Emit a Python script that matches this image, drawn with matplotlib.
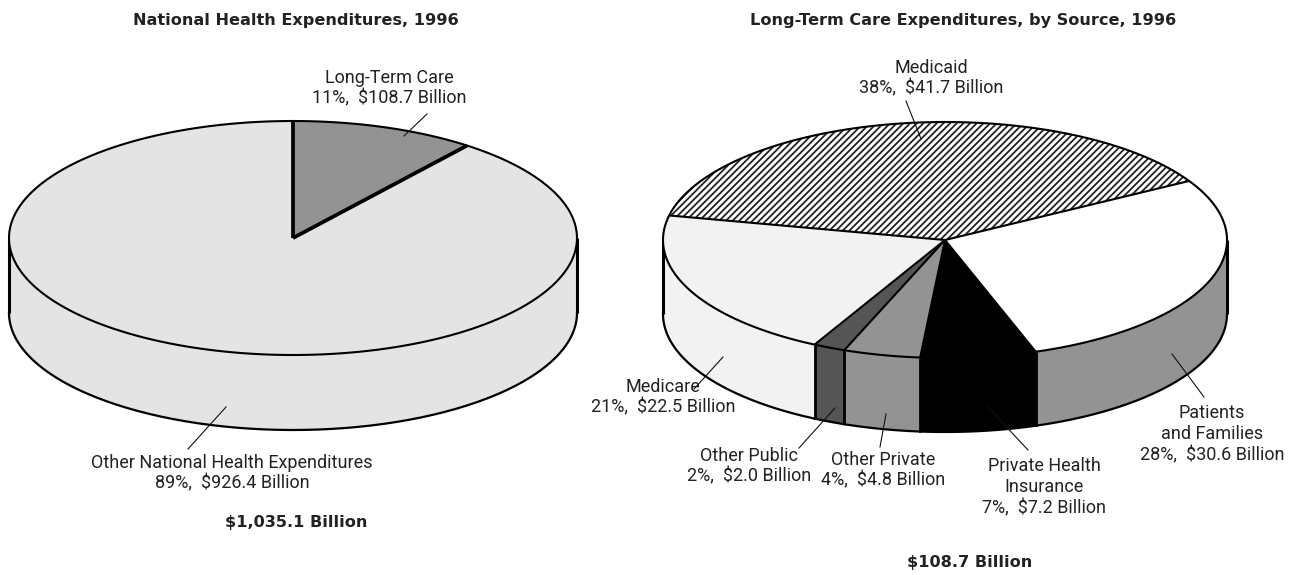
import numpy as np
import matplotlib
matplotlib.use('Agg')
import matplotlib.pyplot as plt
from matplotlib.patches import Polygon

# values in billion dollars
left_values = [108.7, 926.4]
right_values = [41.7, 30.6, 7.2, 4.8, 2.0, 22.5]

left_top = ['#939393', '#e4e4e4']
left_side = ['#939393', '#e4e4e4']
right_top = ['hatch', '#ffffff', '#000000', '#939393', '#555555', '#f2f2f2']
right_side = ['hatch', '#939393', '#000000', '#939393', '#555555', '#f2f2f2']

plt.rcParams['hatch.linewidth'] = 1.3
label_font = ['Liberation Sans Narrow', 'Roboto']


def pie3d(ax, values, tops, sides, start, cx, cy, rx, ry, depth, lw_spoke, lw_wall):
    spans = np.array(values) / sum(values) * 360
    edges = start + np.concatenate([[0], np.cumsum(spans)])

    def arc(a, b, dy=0):
        t = np.radians(np.linspace(a, b, 200))
        return np.column_stack([cx + rx * np.sin(t), cy + dy - ry * np.cos(t)])

    # front wall first, only the part facing us (90..270 deg clockwise from top)
    cuts = []
    for i in range(len(values)):
        a = max(edges[i], 90)
        b = min(edges[i + 1], 270)
        if b <= a:
            continue
        wall = np.vstack([arc(a, b), arc(a, b, depth)[::-1]])
        ax.add_patch(Polygon(wall, closed=True, fc=sides[i], ec='none', zorder=2))
        ax.plot(*arc(a, b, depth).T, color='black', lw=1.6, zorder=3)
        cuts += [a, b]
    for c in sorted(set(cuts)):
        p = arc(c, c)[0]
        w = lw_wall if 90 < c < 270 else 2.2
        ax.plot([p[0], p[0]], [p[1], p[1] + depth], color='black', lw=w,
                solid_capstyle='butt', zorder=4)

    for i in range(len(values)):
        pts = np.vstack([[cx, cy], arc(edges[i], edges[i + 1])])
        if tops[i] == 'hatch':
            ax.add_patch(Polygon(pts, closed=True, fc='white', ec='#222222', lw=0,
                                 hatch='/////', zorder=5))
        else:
            ax.add_patch(Polygon(pts, closed=True, fc=tops[i], ec='none', zorder=5))
    ax.plot(*arc(0, 360).T, color='black', lw=1.5, zorder=6)
    for e in edges[:-1]:
        p = arc(e, e)[0]
        ax.plot([cx, p[0]], [cy, p[1]], color='black', lw=lw_spoke,
                solid_capstyle='butt', zorder=7)


fig = plt.figure(figsize=(12.97, 5.75), dpi=100)
ax = fig.add_axes([0, 0, 1, 1])
ax.set_xlim(0, 1297)
ax.set_ylim(575, 0)
ax.axis('off')

pie3d(ax, left_values, left_top, left_side, 0, 293, 238, 284, 117, 75, 2.7, 2.7)
pie3d(ax, right_values, right_top, right_side, -78, 945, 240, 282, 118, 74, 1.5, 2.0)

titles = [
    ('National Health Expenditures, 1996', 296, 21),
    ('Long-Term Care Expenditures, by Source, 1996', 963, 21),
    ('$1,035.1 Billion', 296, 523),
    ('$108.7 Billion', 970, 563),
]
for s, x, y in titles:
    ax.text(x, y, s, ha='center', va='center', fontsize=11.6, fontweight='bold',
            family='DejaVu Sans', color='#222222')

labels = [
    ('Long-Term Care\n11%,  $108.7 Billion', 389, 88),
    ('Other National Health Expenditures\n89%,  $926.4 Billion', 232, 473),
    ('Medicaid\n38%,  $41.7 Billion', 931, 78),
    ('Medicare\n21%,  $22.5 Billion', 663, 397),
    ('Other Public\n2%,  $2.0 Billion', 749, 466),
    ('Other Private\n4%,  $4.8 Billion', 883, 470),
    ('Private Health\nInsurance\n7%,  $7.2 Billion', 1044, 487),
    ('Patients\nand Families\n28%,  $30.6 Billion', 1212, 434),
]
for s, x, y in labels:
    ax.text(x, y, s, ha='center', va='center', fontsize=13, family=label_font,
            color='#222222', linespacing=1.2, zorder=10)

leaders = [
    ((427, 114), (404, 136)),
    ((188, 449), (226, 407)),
    ((906, 101), (921, 139)),
    ((694, 389), (723, 357)),
    ((799, 448), (835, 408)),
    ((880, 447), (886, 414)),
    ((1028, 450), (988, 407)),
    ((1204, 397), (1172, 354)),
]
for a, b in leaders:
    ax.plot([a[0], b[0]], [a[1], b[1]], color='#111111', lw=0.8, zorder=9)

fig.savefig('out.png', dpi=100, facecolor='white')
